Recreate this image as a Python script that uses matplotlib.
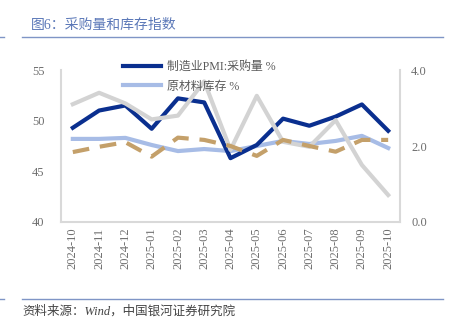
import matplotlib
matplotlib.use("Agg")
import matplotlib.pyplot as plt
from matplotlib.lines import Line2D

plt.rcParams['font.family'] = ['Liberation Serif', 'Noto Sans CJK SC', 'DejaVu Sans']

months = ["2024-10", "2024-11", "2024-12", "2025-01", "2025-02", "2025-03", "2025-04",
          "2025-05", "2025-06", "2025-07", "2025-08", "2025-09", "2025-10"]
# 左轴
purchase = [49.3, 51.0, 51.5, 49.2, 52.2, 51.8, 46.3, 47.6, 50.2, 49.5, 50.4, 51.6, 49.0]
raw_stock = [48.2, 48.2, 48.3, 47.6, 47.0, 47.2, 47.0, 47.5, 48.0, 47.7, 48.0, 48.5, 47.3]
# 右轴
spread_a = [1.84, 1.98, 2.10, 1.72, 2.22, 2.16, 2.00, 1.74, 2.16, 2.00, 1.85, 2.16, 2.16]
spread_b = [3.10, 3.40, 3.12, 2.70, 2.80, 3.70, 1.90, 3.32, 2.11, 1.98, 2.68, 1.50, 0.71]

dark_blue = "#0a2f8f"
light_blue = "#a7bce6"
tan = "#c4a06a"
grey = "#d3d3d3"
tick_col = "#6e6e6e"
spine_col = "#d9d9d9"

fig = plt.figure(figsize=(4.55, 3.36), dpi=100)
ax = fig.add_axes([61/455, 1-222/336, 339/455, 152/336])
ax2 = ax.twinx()

x = list(range(len(months)))
ax.plot(x, purchase, color=dark_blue, lw=3, zorder=4)
ax.plot(x, raw_stock, color=light_blue, lw=3, zorder=3)
ax2.plot(x, spread_b, color=grey, lw=3, zorder=1)
ax2.plot(x, spread_a, color=tan, lw=3, dashes=(4, 2.6), zorder=2)

ax.set_ylim(40, 55)
ax.set_yticks([40, 45, 50, 55])
ax2.set_ylim(0, 4)
ax2.set_yticks([0, 2, 4])
ax2.set_yticklabels(["0.0", "2.0", "4.0"])
ax.set_xlim(-0.45, 12.45)
ax.set_xticks(x)
ax.set_xticklabels(months, rotation=90)

for a in (ax, ax2):
    for s in a.spines.values():
        s.set_visible(False)
    a.tick_params(length=0, labelsize=9, colors=tick_col)
ax.spines['left'].set_visible(True)
ax.spines['bottom'].set_visible(True)
ax2.spines['right'].set_visible(True)
for s in (ax.spines['left'], ax.spines['bottom'], ax2.spines['right']):
    s.set_color(spine_col)
    s.set_linewidth(1.5)
ax.tick_params(axis='y', pad=12)
ax2.tick_params(axis='y', pad=8)
ax.tick_params(axis='x', pad=4)

handles = [Line2D([], [], color=dark_blue, lw=3), Line2D([], [], color=light_blue, lw=3)]
fig.legend(handles, ["制造业PMI:采购量 %", "原材料库存 %"], loc="upper left",
           bbox_to_anchor=(112/455, 1-50/336), frameon=False, fontsize=8.6,
           handlelength=3.2, handletextpad=0.5, labelspacing=0.65, labelcolor="#595959")

fig.text(31/455, 1-25/336, "图6：采购量和库存指数", color="#5b78b8", fontsize=10, va="center")
fig.add_artist(Line2D([22/455, 443/455], [1-37/336, 1-37/336], color="#7f95c6", lw=1))
fig.add_artist(Line2D([0, 4/455], [1-37/336, 1-37/336], color="#7f95c6", lw=1))
fig.add_artist(Line2D([22/455, 443/455], [1-299/336, 1-299/336], color="#7f95c6", lw=1))
fig.add_artist(Line2D([0, 4/455], [1-299/336, 1-299/336], color="#7f95c6", lw=1))
fig.text(22/455, 1-311/336, "资料来源：Wind，中国银河证券研究院", color="#444444", fontsize=9,
         style="italic", va="center")

fig.savefig("out.png", dpi=100)
